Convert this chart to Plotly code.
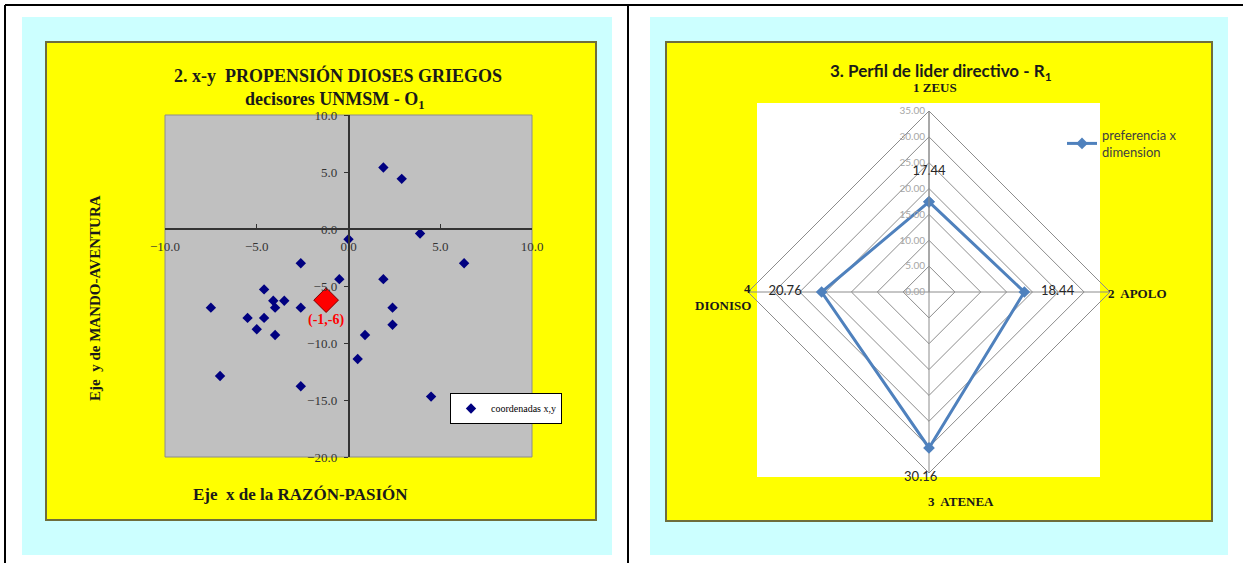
import plotly.graph_objects as go

# ---------------- data ----------------
# scatter: coordenadas (x, y) de los decisores
coord_x = [0.0, -2.6, -0.5, 1.9, -4.6, -7.5, -4.1, -3.5, -4.0, -2.6, 2.4, -5.5, -4.6,
           2.4, -5.0, -4.0, 0.9, 0.5, -7.0, -2.6, 1.9, 2.9, 3.9, 6.3, 4.5]
coord_y = [-0.9, -3.0, -4.4, -4.4, -5.3, -6.9, -6.3, -6.3, -6.9, -6.9, -6.9, -7.8, -7.8,
           -8.4, -8.8, -9.3, -9.3, -11.4, -12.9, -13.8, 5.4, 4.4, -0.4, -3.0, -14.7]
x_ticks = [-10, -5, 0, 5, 10]
y_ticks = [10, 5, 0, -5, -10, -15, -20]

# radar: perfil de lider directivo
dimensiones = ["1 ZEUS", "2  APOLO", "3 ATENEA", "4 DIONISO"]
preferencia = [17.44, 18.44, 30.16, 20.76]
radial_ticks = [0, 5, 10, 15, 20, 25, 30, 35]

# punto medio de las coordenadas
mean_x = sum(coord_x) / len(coord_x)
mean_y = sum(coord_y) / len(coord_y)

W, H = 1243, 563


def px(x):
    return x / W


def py(y):
    return 1 - y / H


SERIF = "Liberation Serif"
SANS = "Lato"
NAVY = "#000080"
BLUE = "#4F81BD"
TXT = "#1a1a1a"

fig = go.Figure()

fig.add_trace(go.Scatter(
    x=coord_x, y=coord_y, mode="markers", name="coordenadas x,y",
    marker=dict(symbol="diamond", size=8, color=NAVY),
    legend="legend", cliponaxis=False,
))
fig.add_trace(go.Scatter(
    x=[mean_x], y=[mean_y], mode="markers+text", showlegend=False,
    marker=dict(symbol="diamond", size=19, color="#FF0000",
                line=dict(color="#800000", width=1)),
    text=[f"<b>({round(mean_x)},{round(mean_y)})</b>"],
    textposition="bottom center",
    textfont=dict(family=SERIF, size=14, color="#FF0000"),
))

# radar closed loop
r_loop = preferencia + [preferencia[0]]
t_loop = dimensiones + [dimensiones[0]]
nb = "\u00a0"
labels = [f"{v:.2f}" for v in preferencia]
texts = [labels[0] + "<br>" + nb, nb * 3 + labels[1],
         nb + "<br>" + labels[2] + nb * 5, labels[3] + nb * 4, ""]
fig.add_trace(go.Scatterpolar(
    r=r_loop, theta=t_loop, mode="lines+markers+text",
    name="preferencia x<br>dimension",
    line=dict(color=BLUE, width=3),
    marker=dict(symbol="diamond", size=9, color=BLUE),
    text=texts,
    textposition=["top center", "middle right", "bottom center", "middle left", "top center"],
    textfont=dict(family=SANS, size=13, color="#262626"),
    legend="legend2", cliponaxis=False,
))

shapes = []


def rect(x0, y0, x1, y1, fill, line_color=None, lw=0):
    shapes.append(dict(
        type="rect", xref="paper", yref="paper",
        x0=px(x0), x1=px(x1), y0=py(y1), y1=py(y0),
        fillcolor=fill, layer="below",
        line=dict(color=line_color or fill, width=lw),
    ))


def hline(x0, x1, y, color="black", w=2):
    shapes.append(dict(type="line", xref="paper", yref="paper",
                       x0=px(x0), x1=px(x1), y0=py(y), y1=py(y),
                       line=dict(color=color, width=w), layer="below"))


def vline(x, y0, y1, color="black", w=2):
    shapes.append(dict(type="line", xref="paper", yref="paper",
                       x0=px(x), x1=px(x), y0=py(y0), y1=py(y1),
                       line=dict(color=color, width=w), layer="below"))


# panel backgrounds
rect(22, 17, 612, 555, "#CCFFFF")
rect(650, 17, 1228, 555, "#CCFFFF")
rect(46, 42, 596, 520, "#FFFF00", "#6E6E3C", 2)
rect(666, 42, 1212, 521, "#FFFF00", "#6E6E3C", 2)
# scatter plot area and radar plot area
rect(165, 115, 532, 457, "#C0C0C0", "#8C8C8C", 1)
rect(757, 103, 1100, 477, "#FFFFFF")
# table borders
hline(5, 1243, 5)
vline(5, 5, 563)
vline(628, 5, 563)


def note(text, x, y, size, family=SERIF, xanchor="center", angle=0, color=TXT):
    return dict(text=text, x=px(x), y=py(y), xref="paper", yref="paper",
                showarrow=False, xanchor=xanchor, yanchor="middle", textangle=angle,
                font=dict(family=family, size=size, color=color))


dim_num = [d.split()[0] for d in dimensiones]
dim_name = [d.split()[-1] for d in dimensiones]

annotations = [
    note("<b>2. x-y  PROPENSIÓN DIOSES GRIEGOS</b>", 338, 75, 18),
    note("<b>decisores UNMSM - O<sub>1</sub></b>", 335, 100, 18),
    note("<b>Eje  y de MANDO-AVENTURA</b>", 95, 298, 15, angle=-90),
    note("<b>Eje  x de la RAZÓN-PASIÓN</b>", 300, 494, 17),
    note("<b>3. Perfil de lider directivo - R<sub>1</sub></b>", 941, 72, 17, family=SANS),
    # radar dimension labels
    note(f"<b>{dimensiones[0]}</b>", 935, 88, 13),
    note(f"<b>{dimensiones[1]}</b>", 1106, 293, 13, xanchor="left"),
    note(f"<b>{dim_num[3]}</b>", 753, 288, 13, xanchor="right"),
    note(f"<b>{dim_name[3]}</b>", 753, 305, 13, xanchor="right"),
    note(f"<b>{dim_num[2]}  {dim_name[2]}</b>", 926, 501, 13, xanchor="left"),
]

axis_font = dict(family=SERIF, size=13, color="#333333")

fig.update_layout(
    width=W, height=H,
    margin=dict(l=0, r=0, t=0, b=0),
    paper_bgcolor="white", plot_bgcolor="rgba(0,0,0,0)",
    template="none",
    shapes=shapes, annotations=annotations,
    xaxis=dict(domain=[px(165), px(532)], range=[-10, 10], tickvals=x_ticks,
               tickformat=".1f", anchor="free", position=py(229),
               showline=True, linecolor="#333333", linewidth=1.5,
               ticks="inside", ticklen=4, tickcolor="#333333",
               showgrid=False, zeroline=False, tickfont=axis_font,
               ticklabelstandoff=6, automargin=False),
    yaxis=dict(domain=[py(457), py(115)], range=[-20, 10], tickvals=y_ticks,
               tickformat=".1f", anchor="free", position=px(348.5),
               showline=True, linecolor="#333333", linewidth=1.5,
               ticks="outside", ticklen=4, tickcolor="#333333",
               showgrid=False, zeroline=False, tickfont=axis_font,
               ticklabelstandoff=4, automargin=False),
    polar=dict(
        domain=dict(x=[px(748), px(1110)], y=[py(473), py(111)]),
        bgcolor="rgba(0,0,0,0)",
        gridshape="linear",
        angularaxis=dict(rotation=90, direction="clockwise", type="category",
                         categoryarray=dimensiones, showticklabels=False,
                         showline=True, linecolor="#8C8C8C", linewidth=1,
                         gridcolor="#8C8C8C", ticks=""),
        radialaxis=dict(range=[0, 35], tickvals=radial_ticks, tickformat=".2f",
                        angle=90, tickangle=90, side="counterclockwise",
                        showline=True, linecolor="#8C8C8C", gridcolor="#8C8C8C",
                        tickfont=dict(family=SANS, size=10, color="#A6A6A6"),
                        ticks=""),
    ),
    legend=dict(x=px(450), y=py(393), xanchor="left", yanchor="top",
                bgcolor="white", bordercolor="black", borderwidth=1,
                font=dict(family=SERIF, size=10, color="black"), itemwidth=30),
    legend2=dict(x=px(1062), y=py(120), xanchor="left", yanchor="top",
                 bgcolor="rgba(0,0,0,0)", borderwidth=0,
                 font=dict(family=SANS, size=13, color="#404040")),
)

fig.write_html("out.html")
